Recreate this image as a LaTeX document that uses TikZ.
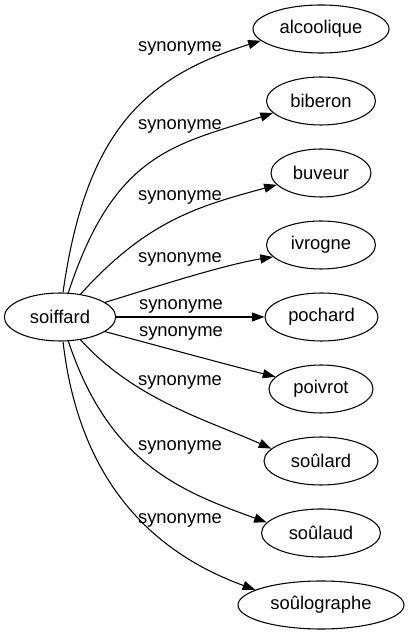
\documentclass[tikz,border=0pt]{standalone}
\usepackage{fontspec}
\setmainfont{Liberation Sans}
\usetikzlibrary{shapes.geometric,arrows.meta}
\begin{document}
\begin{tikzpicture}[x=0.75pt,y=0.75pt,
  every node/.style={font=\fontsize{13.8}{16}\selectfont},
  word/.style={draw,ellipse,inner sep=0pt,minimum height=36pt,line width=0.8pt},
  lab/.style={inner sep=0pt},
  syn/.style={line width=0.8pt,-{Triangle[length=9.5pt,width=6.8pt]}}]
\useasboundingbox (0,0) rectangle (409,635);
\node[word,minimum width=83.55pt] (soiffard) at (60,318) {soiffard};
\node[word,minimum width=102pt] (alcoolique) at (321,606) {alcoolique};
\node[word,minimum width=81.75pt] (biberon) at (321,534) {biberon};
\node[word,minimum width=75pt] (buveur) at (321,462) {buveur};
\node[word,minimum width=81.75pt] (ivrogne) at (321,390) {ivrogne};
\node[word,minimum width=84.75pt] (pochard) at (321.5,318) {pochard};
\node[word,minimum width=78pt] (poivrot) at (321,246) {poivrot};
\node[word,minimum width=85.5pt] (soulard) at (321,174) {soûlard};
\node[word,minimum width=89.25pt] (soulaud) at (321,102) {soûlaud};
\node[word,minimum width=124.5pt] (soulographe) at (321,30) {soûlographe};
\node[lab] (l1) at (180,587) {synonyme};
\node[lab] (l2) at (180,509) {synonyme};
\node[lab] (l3) at (180,438) {synonyme};
\node[lab] (l4) at (180,376) {synonyme};
\node[lab] (l5) at (181,329) {synonyme};
\node[lab] (l6) at (181,302) {synonyme};
\node[lab] (l7) at (180,253) {synonyme};
\node[lab] (l8) at (180,188) {synonyme};
\node[lab] (l9) at (180,115) {synonyme};
\draw[syn] (soiffard.83.5) .. controls +(82:165) and +(197.5:120) .. (alcoolique.191.3);
\draw[syn] (soiffard.71.6) .. controls +(72:150) and +(198.4:100) .. (biberon.194.3);
\draw[syn] (soiffard.48) .. controls +(48:100) and +(195.3:80) .. (buveur.195.5);
\draw[syn] (soiffard.18) .. controls +(17:50) and +(189:50) .. (ivrogne.194.3);
\draw[syn] (soiffard.east) -- (pochard.west);
\draw[syn] (soiffard.-18) .. controls +(-15:50) and +(166:50) .. (poivrot.165.7);
\draw[syn] (soiffard.-48) .. controls +(-48:80) and +(156:70) .. (soulard.166.3);
\draw[syn] (soiffard.-71.6) .. controls +(-71.6:130) and +(160:90) .. (soulaud.169.7);
\draw[syn] (soiffard.-83.5) .. controls +(-83.5:140) and +(160:110) .. (soulographe.167.7);
\end{tikzpicture}
\end{document}
